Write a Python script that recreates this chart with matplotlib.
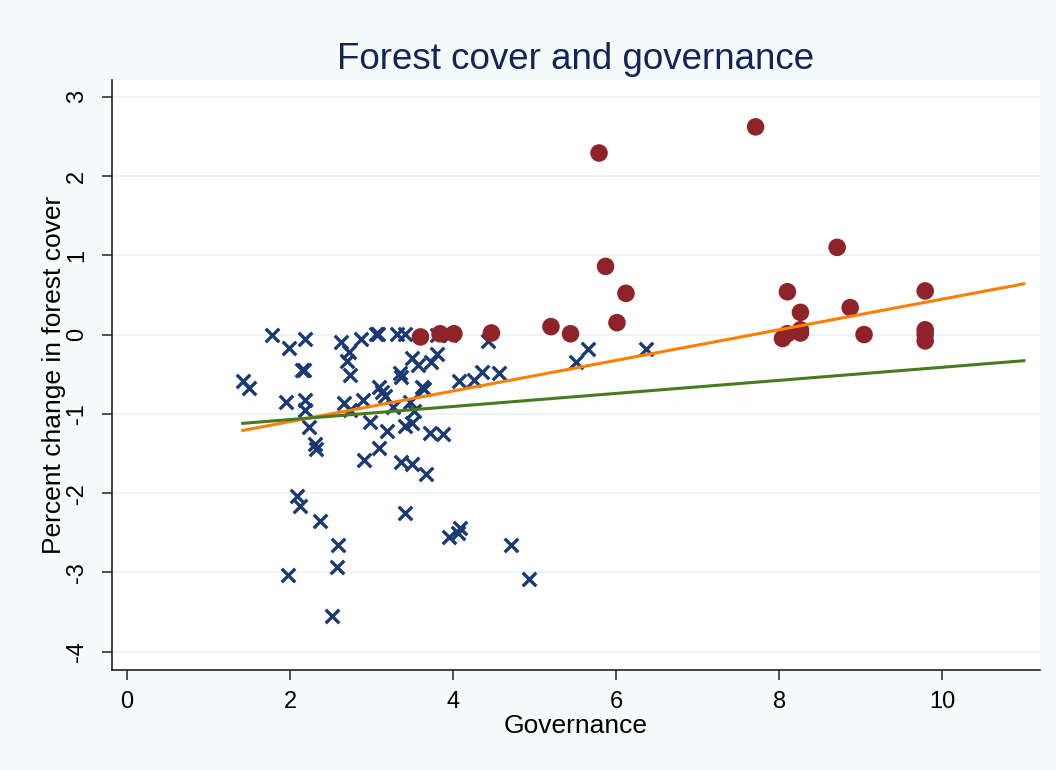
import numpy as np
import matplotlib
matplotlib.use("Agg")
import matplotlib.pyplot as plt

plt.rcParams['font.family'] = ['Liberation Sans', 'DejaVu Sans']
plt.rcParams['axes.unicode_minus'] = False

# pays à faible gouvernance (croix)
gov_low = [1.42, 1.50, 1.78, 1.99, 2.18, 2.15, 2.17, 1.95, 2.18, 2.18, 2.23, 2.31, 2.32,
           2.09, 2.12, 2.37, 1.98, 2.59, 2.58, 2.52, 2.63, 2.72, 2.70, 2.74, 2.66, 2.74,
           2.87, 2.90, 2.91, 2.98, 3.06, 3.08, 3.09, 3.13, 3.17, 3.09, 3.19, 3.26, 3.31,
           3.41, 3.35, 3.36, 3.36, 3.50, 3.41, 3.50, 3.41, 3.47, 3.52, 3.50, 3.57, 3.67,
           3.62, 3.64, 3.73, 3.80, 3.72, 3.88, 3.80, 3.96, 4.07, 3.95, 4.06, 4.09, 4.43,
           4.26, 4.36, 4.56, 4.71, 4.93, 5.51, 5.66, 6.36]
forest_low = [-0.59, -0.67, 0.00, -0.17, -0.05, -0.45, -0.45, -0.85, -0.83, -0.95, -1.17,
              -1.38, -1.44, -2.04, -2.16, -2.35, -3.03, -2.66, -2.93, -3.55, -0.10, -0.22,
              -0.33, -0.51, -0.86, -0.95, -0.05, -0.82, -1.58, -1.10, 0.01, 0.01, -0.66,
              -0.72, -0.78, -1.43, -1.22, -0.91, 0.01, 0.01, -0.48, -0.53, -1.61, -1.63,
              -1.15, -1.11, -2.25, -0.85, -0.97, -0.30, -0.38, -1.76, -0.66, -0.69, -0.35,
              -0.25, -1.24, -1.26, 0.00, 0.00, -0.58, -2.55, -2.50, -2.44, -0.08, -0.57,
              -0.47, -0.49, -2.66, -3.08, -0.34, -0.18, -0.18]

# pays à forte gouvernance (ronds)
gov_high = [3.60, 3.84, 4.01, 4.47, 5.20, 5.44, 6.01, 5.79, 5.87, 6.12, 7.71, 8.71, 8.10,
            8.26, 8.87, 8.04, 8.10, 8.26, 8.26, 9.04, 9.79, 9.79, 9.79, 9.79]
forest_high = [-0.03, 0.01, 0.01, 0.02, 0.10, 0.01, 0.15, 2.29, 0.86, 0.52, 2.62, 1.10, 0.54,
               0.28, 0.34, -0.05, 0.01, 0.02, 0.06, 0.00, 0.55, 0.06, 0.00, -0.08]

# droites d'ajustement (extrémités)
fit_x = [1.42, 11.0]
fit_orange = [-1.21, 0.64]
fit_green = [-1.12, -0.33]

fig = plt.figure(figsize=(10.56, 7.7), dpi=100, facecolor='#f5fafb')
ax = fig.add_axes([0.106, 0.130, 0.879, 0.766])
ax.set_facecolor('white')

for yy in range(-4, 4):
    ax.axhline(yy, color='#eaf2f3', lw=1.2, zorder=0)

ax.scatter(gov_low, forest_low, marker='x', s=95, linewidths=2.4, color='#1a3a73', zorder=3)
ax.scatter(gov_high, forest_high, marker='o', s=160, color='#8f2329', edgecolors='none', zorder=3)
ax.plot(fit_x, fit_orange, color='#ff8000', lw=2.2, zorder=4)
ax.plot(fit_x, fit_green, color='#4a7a1e', lw=2.2, zorder=4)

ax.set_xlim(-0.184, 11.2)
ax.set_ylim(-4.23, 3.21)
ax.set_xticks([0, 2, 4, 6, 8, 10])
ax.set_yticks([-4, -3, -2, -1, 0, 1, 2, 3])
ax.tick_params(axis='both', direction='out', length=7, width=1.2, color='#333333', labelsize=17)
ax.tick_params(axis='x', pad=8)
ax.tick_params(axis='y', pad=10)
plt.setp(ax.get_yticklabels(), rotation=90, va='center')

for s in ['top', 'right']:
    ax.spines[s].set_visible(False)
for s in ['left', 'bottom']:
    ax.spines[s].set_linewidth(1.2)
    ax.spines[s].set_color('#222222')

ax.set_xlabel("Governance", fontsize=19, labelpad=1)
ax.set_ylabel("Percent change in forest cover", fontsize=19)
ax.yaxis.set_label_coords(-0.049, 0.5)
ax.set_title("Forest cover and governance", fontsize=26.5, color='#14245a', pad=8)

fig.savefig("out.png", dpi=100, facecolor=fig.get_facecolor())
